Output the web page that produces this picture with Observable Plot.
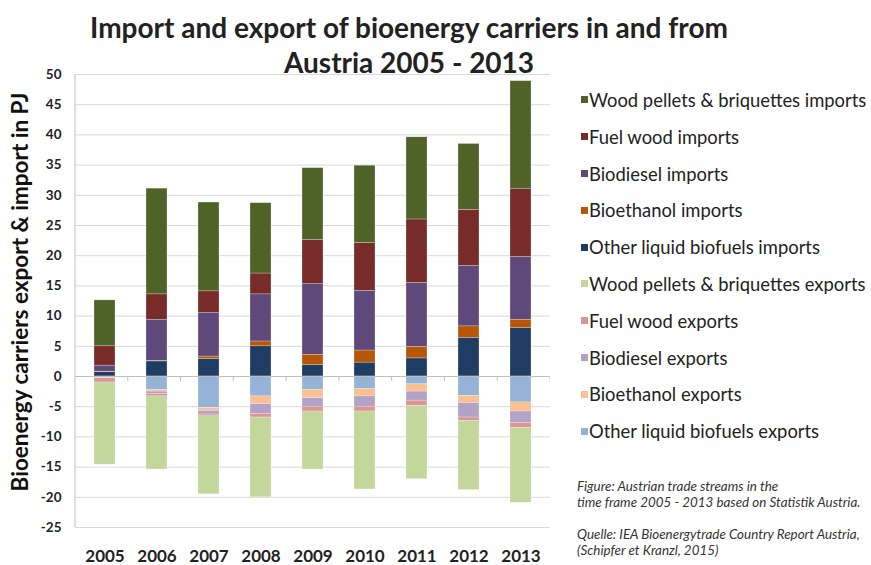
<!DOCTYPE html>
<html>
<head>
<meta charset="utf-8">
<script src="https://cdn.jsdelivr.net/npm/d3@7"></script>
<script src="https://cdn.jsdelivr.net/npm/@observablehq/plot@0.6"></script>
<style>
  html, body { margin: 0; padding: 0; background: #fff; }
  body { font-family: Lato, "Open Sans", sans-serif; }
  #wrap { position: relative; width: 871px; height: 565px; overflow: hidden; }
  #chart { position: absolute; left: 0; top: 0; }
  #title { position: absolute; left: 9px; width: 800px; top: 10px; text-align: center;
           font-weight: bold; font-size: 28px; line-height: 35px; color: #222; z-index: 2; }
  #ylabel { position: absolute; left: 20px; top: 292px; transform-origin: 0 0;
            transform: rotate(-90deg) translate(-50%, -50%);
            white-space: nowrap; font-weight: bold; font-size: 22.5px; line-height: 26px; color: #111; }
  #legend { position: absolute; left: 581px; top: 81.6px; }
  .item { display: flex; align-items: center; height: 36.8px; font-size: 18.4px; color: #222; white-space: nowrap; }
  .sw { width: 7px; height: 7px; margin-right: 1px; flex: none; }
  #caption { position: absolute; left: 577px; top: 478px; font-style: italic; font-size: 13.4px;
             line-height: 16px; color: #333; white-space: nowrap; }
</style>
</head>
<body>
<div id="wrap">
  <div id="chart"></div>
  <div id="title">Import and export of bioenergy carriers in and from<br>Austria 2005 - 2013</div>
  <div id="ylabel">Bioenergy carriers export &amp; import in PJ</div>
  <div id="legend"></div>
  <div id="caption">Figure: Austrian trade streams in the<br>time frame 2005 - 2013 based on Statistik Austria.<br><br>Quelle: IEA Bioenergytrade Country Report Austria,<br>(Schipfer et Kranzl, 2015)</div>
</div>
<script>
// ---- Data (PJ) ----
const years = ["2005", "2006", "2007", "2008", "2009", "2010", "2011", "2012", "2013"];
const yTicks = [-25, -20, -15, -10, -5, 0, 5, 10, 15, 20, 25, 30, 35, 40, 45, 50];

const otherLiquidImports  = [0.7, 2.5, 2.9, 5.0, 1.9, 2.3, 3.0, 6.4, 8.0];
const bioethanolImports   = [0.1, 0.1, 0.4, 0.8, 1.7, 2.0, 1.9, 1.9, 1.4];
const biodieselImports    = [1.0, 6.8, 7.2, 7.8, 11.7, 9.9, 10.6, 10.0, 10.4];
const fuelWoodImports     = [3.2, 4.2, 3.6, 3.45, 7.3, 7.9, 10.5, 9.3, 11.2];
const woodPelletsImports  = [7.6, 17.5, 14.7, 11.65, 11.9, 12.8, 13.6, 10.9, 17.9];

const otherLiquidExports  = [-0.1, -2.2, -5.2, -3.3, -2.2, -2.1, -1.3, -3.2, -4.3];
const bioethanolExports   = [-0.1, -0.3, -0.5, -1.3, -1.4, -1.2, -1.2, -1.2, -1.5];
const biodieselExports    = [-0.1, -0.4, -0.6, -1.6, -1.4, -1.7, -1.5, -2.4, -1.9];
const fuelWoodExports     = [-0.7, -0.4, -0.3, -0.6, -0.8, -0.8, -0.9, -0.6, -0.8];
const woodPelletsExports  = [-13.6, -12.1, -12.9, -13.2, -9.6, -12.9, -12.1, -11.4, -12.4];

// legend order (top to bottom)
const legendNames = [
  "Wood pellets & briquettes imports",
  "Fuel wood imports",
  "Biodiesel imports",
  "Bioethanol imports",
  "Other liquid biofuels imports",
  "Wood pellets & briquettes exports",
  "Fuel wood exports",
  "Biodiesel exports",
  "Bioethanol exports",
  "Other liquid biofuels exports"
];
const legendColors = [
  "#4f6228", "#772c2a", "#5f497a", "#b65708", "#1f3d63",
  "#c3d69b", "#d99694", "#b3a2c7", "#fac090", "#95b3d7"
];

// stacking order (from zero outward)
const stackSeries = [
  ["Other liquid biofuels imports", otherLiquidImports],
  ["Bioethanol imports", bioethanolImports],
  ["Biodiesel imports", biodieselImports],
  ["Fuel wood imports", fuelWoodImports],
  ["Wood pellets & briquettes imports", woodPelletsImports],
  ["Other liquid biofuels exports", otherLiquidExports],
  ["Bioethanol exports", bioethanolExports],
  ["Biodiesel exports", biodieselExports],
  ["Fuel wood exports", fuelWoodExports],
  ["Wood pellets & briquettes exports", woodPelletsExports]
];

const table = [];
for (const [name, vals] of stackSeries) {
  years.forEach((yr, i) => table.push({year: yr, series: name, value: vals[i]}));
}

const W = 550, H = 565, ML = 75, MR = 0, MT = 74, MB = 38;

// axis line + category boundary ticks
function axisDecor(index, scales, values, dimensions) {
  const g = d3.create("svg:g");
  const y = scales.y;
  const step = (dimensions.width - dimensions.marginLeft - dimensions.marginRight) / years.length;
  g.append("line")
    .attr("x1", dimensions.marginLeft).attr("x2", dimensions.marginLeft)
    .attr("y1", y(yTicks[yTicks.length - 1])).attr("y2", y(yTicks[0]))
    .attr("stroke", "#bfbfbf");
  years.forEach((yr, i) => {
    const xb = dimensions.marginLeft + step * (i + 1);
    g.append("line")
      .attr("x1", xb).attr("x2", xb)
      .attr("y1", y(0)).attr("y2", y(0) + 5)
      .attr("stroke", "#bfbfbf");
  });
  return g.node();
}

const chart = Plot.plot({
  width: W, height: H,
  marginLeft: ML, marginRight: MR, marginTop: MT, marginBottom: MB,
  style: {fontFamily: "Lato, 'Open Sans', sans-serif", color: "#222", background: "transparent"},
  x: {domain: years, paddingInner: 0.6, paddingOuter: 0.3, label: null},
  y: {domain: [yTicks[0], yTicks[yTicks.length - 1]], label: null},
  color: {domain: legendNames, range: legendColors},
  marks: [
    Plot.gridY(yTicks, {stroke: "#d9d9d9", strokeOpacity: 1}),
    Plot.rectY(table, Plot.stackY({x: "year", y: "value", fill: "series", order: null,
      stroke: "#ffffff", strokeWidth: 0.5, strokeOpacity: 0.5})),
    Plot.ruleY([0], {stroke: "#bfbfbf"}),
    axisDecor,
    Plot.axisY(yTicks, {tickSize: 0, tickPadding: 14, fontSize: 13.5, fontWeight: "bold",
      tickFormat: d => String(d), label: null, fill: "#222"}),
    Plot.axisX({tickSize: 0, tickPadding: 22, fontSize: 17, fontWeight: "bold", label: null, fill: "#222"})
  ]
});
document.getElementById("chart").appendChild(chart);

const legend = document.getElementById("legend");
legendNames.forEach((name, i) => {
  const item = document.createElement("div");
  item.className = "item";
  const sw = document.createElement("span");
  sw.className = "sw";
  sw.style.background = legendColors[i];
  const t = document.createElement("span");
  t.textContent = name;
  item.appendChild(sw);
  item.appendChild(t);
  legend.appendChild(item);
});
</script>
</body>
</html>
